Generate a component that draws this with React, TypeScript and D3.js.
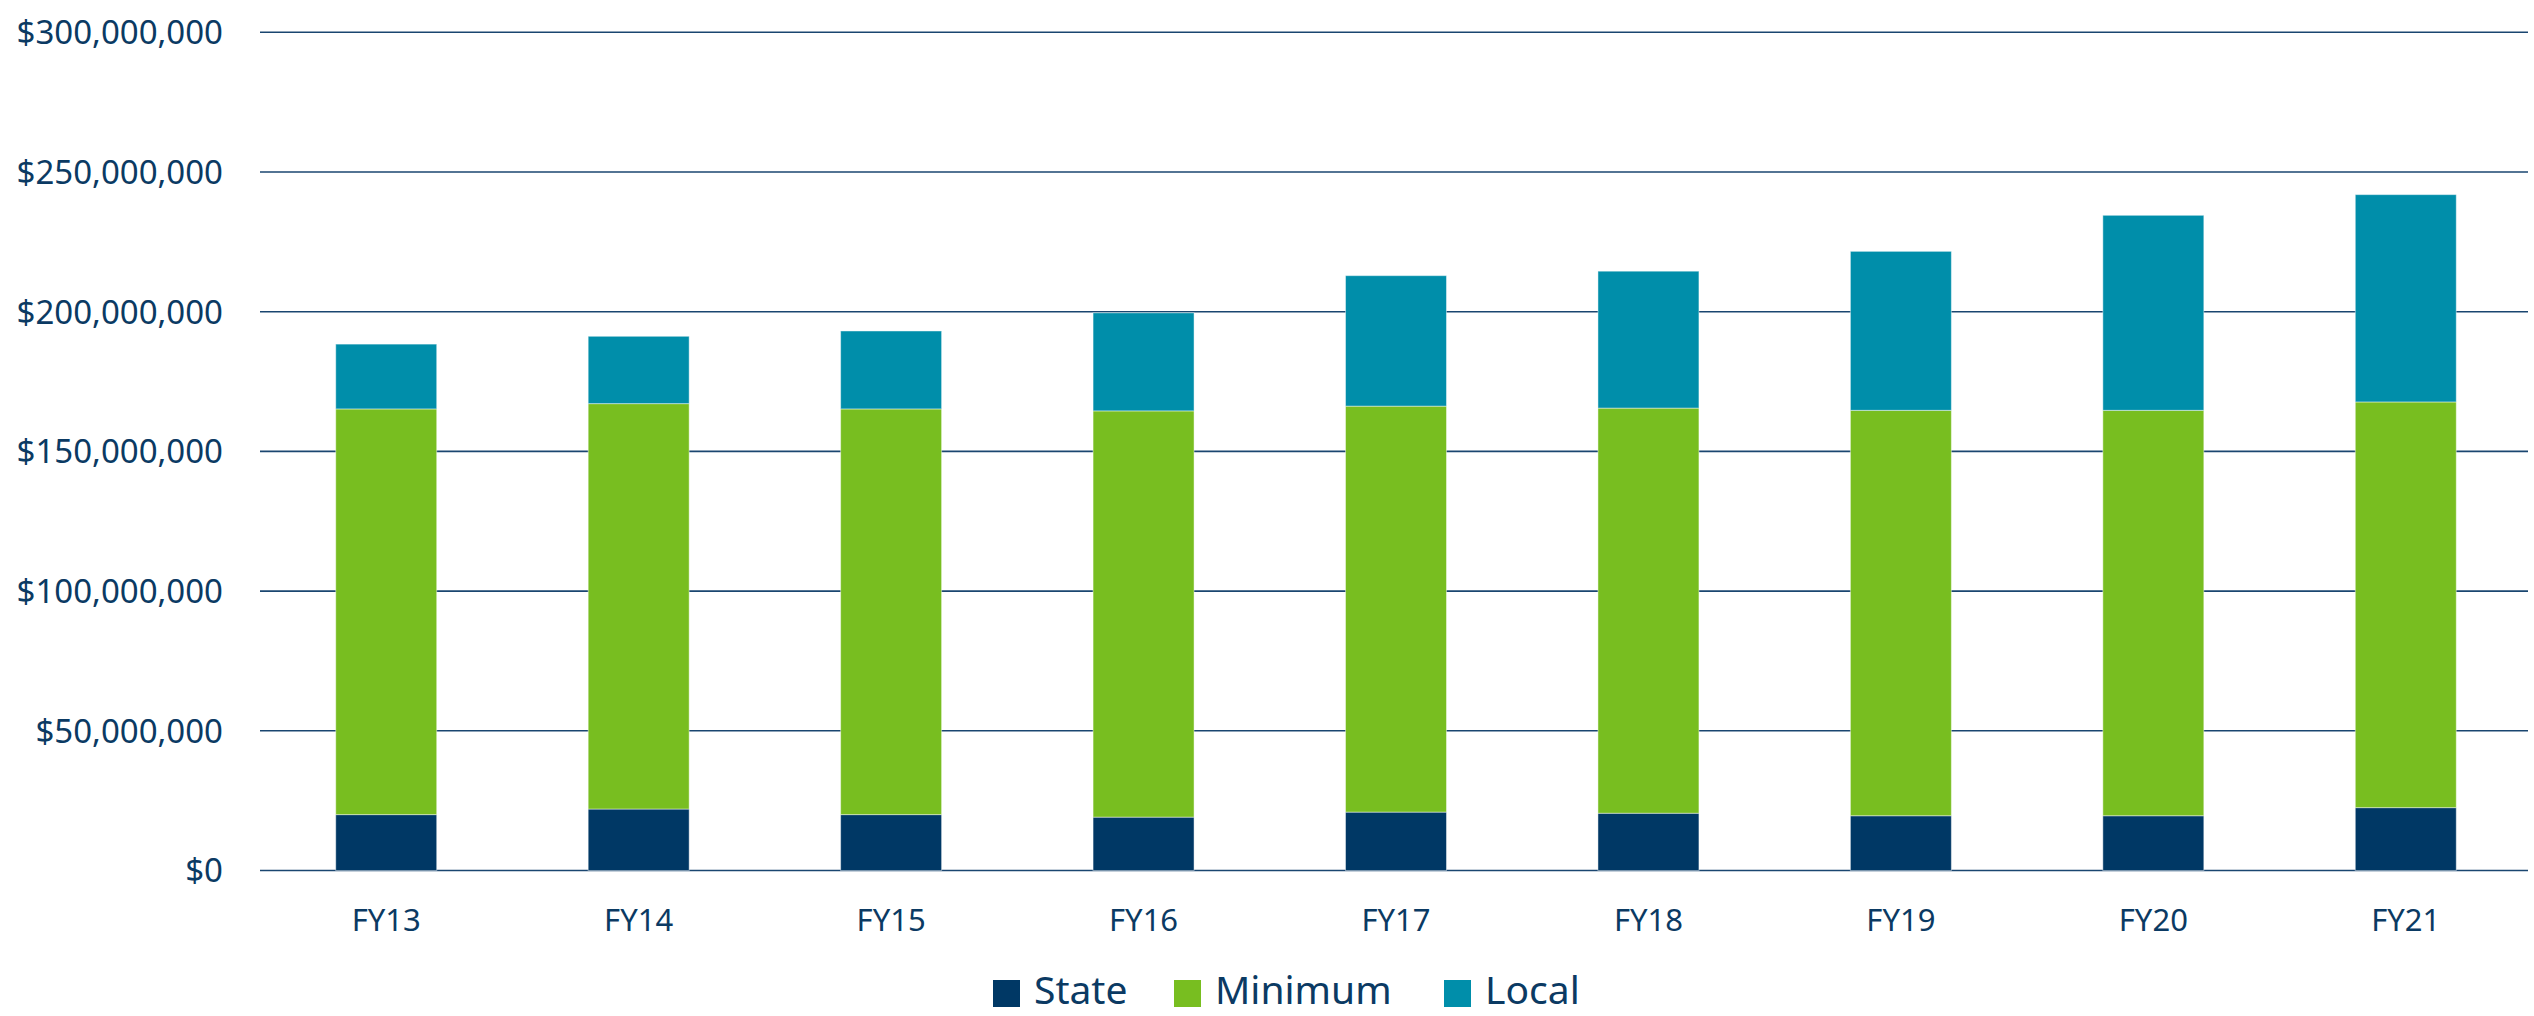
import * as d3 from "d3";
import React from "react";

const categories = ["FY13", "FY14", "FY15", "FY16", "FY17", "FY18", "FY19", "FY20", "FY21"];
// values in millions of dollars
const stateValues = [20.0, 22.0, 20.0, 19.1, 20.9, 20.5, 19.6, 19.6, 22.5];
const minimumValues = [145.2, 145.1, 145.2, 145.4, 145.3, 145.0, 145.1, 145.1, 145.2];
const localValues = [23.2, 24.1, 27.9, 35.1, 46.7, 49.0, 56.9, 69.8, 74.2];
const seriesNames = ["State", "Minimum", "Local"];
const yTicks = [0, 50, 100, 150, 200, 250, 300];

const colors = ["#003865", "#78BE20", "#008EAA"];
const textColor = "#0B3A63";
const font = "'Noto Sans', 'Open Sans', sans-serif";

const width = 2534;
const height = 1016;

const App = () => {
  const rows = categories.map((c, i) => ({
    cat: c,
    State: stateValues[i],
    Minimum: minimumValues[i],
    Local: localValues[i],
  }));

  const stacked = d3.stack<any>().keys(seriesNames)(rows);

  const x = d3
    .scaleBand()
    .domain(categories)
    .range([260, 2532])
    .paddingInner(0.6)
    .paddingOuter(0.3);

  const y = d3.scaleLinear().domain([0, 300]).range([870.5, 32.3]);

  const fmt = (v: number) => "$" + d3.format(",")(v * 1e6);

  const legendX = [993, 1174, 1444];

  return (
    <svg
      width={width}
      height={height}
      style={{ position: "absolute", left: 0, top: 0, background: "#fff" }}
      fontFamily={font}
    >
      {/* gridlines */}
      {yTicks.map((t) => (
        <g key={t}>
          <line
            x1={260}
            x2={2528}
            y1={y(t)}
            y2={y(t)}
            stroke="#1A4670"
            strokeWidth={1.6}
          />
          <text
            x={223}
            y={y(t)}
            dy="0.36em"
            textAnchor="end"
            fontSize={33}
            fill={textColor}
          >
            {fmt(t)}
          </text>
        </g>
      ))}

      {/* bars */}
      {stacked.map((s, si) => (
        <g key={s.key} fill={colors[si]}>
          {s.map((d: any, i: number) => (
            <rect
              key={i}
              x={x(categories[i])}
              width={x.bandwidth()}
              y={y(d[1])}
              height={y(d[0]) - y(d[1])}
              stroke="#ffffff"
              strokeOpacity={0.45}
              strokeWidth={1}
            />
          ))}
        </g>
      ))}

      {/* x labels */}
      {categories.map((c) => (
        <text
          key={c}
          x={(x(c) as number) + x.bandwidth() / 2}
          y={931}
          textAnchor="middle"
          fontSize={31}
          fill={textColor}
        >
          {c}
        </text>
      ))}

      {/* legend */}
      {seriesNames.map((n, i) => (
        <g key={n} transform={`translate(${legendX[i]},0)`}>
          <rect x={0} y={980} width={27} height={27} fill={colors[i]} />
          <text x={41} y={1004} fontSize={39} fill={textColor}>
            {n}
          </text>
        </g>
      ))}
    </svg>
  );
};

export default App;
